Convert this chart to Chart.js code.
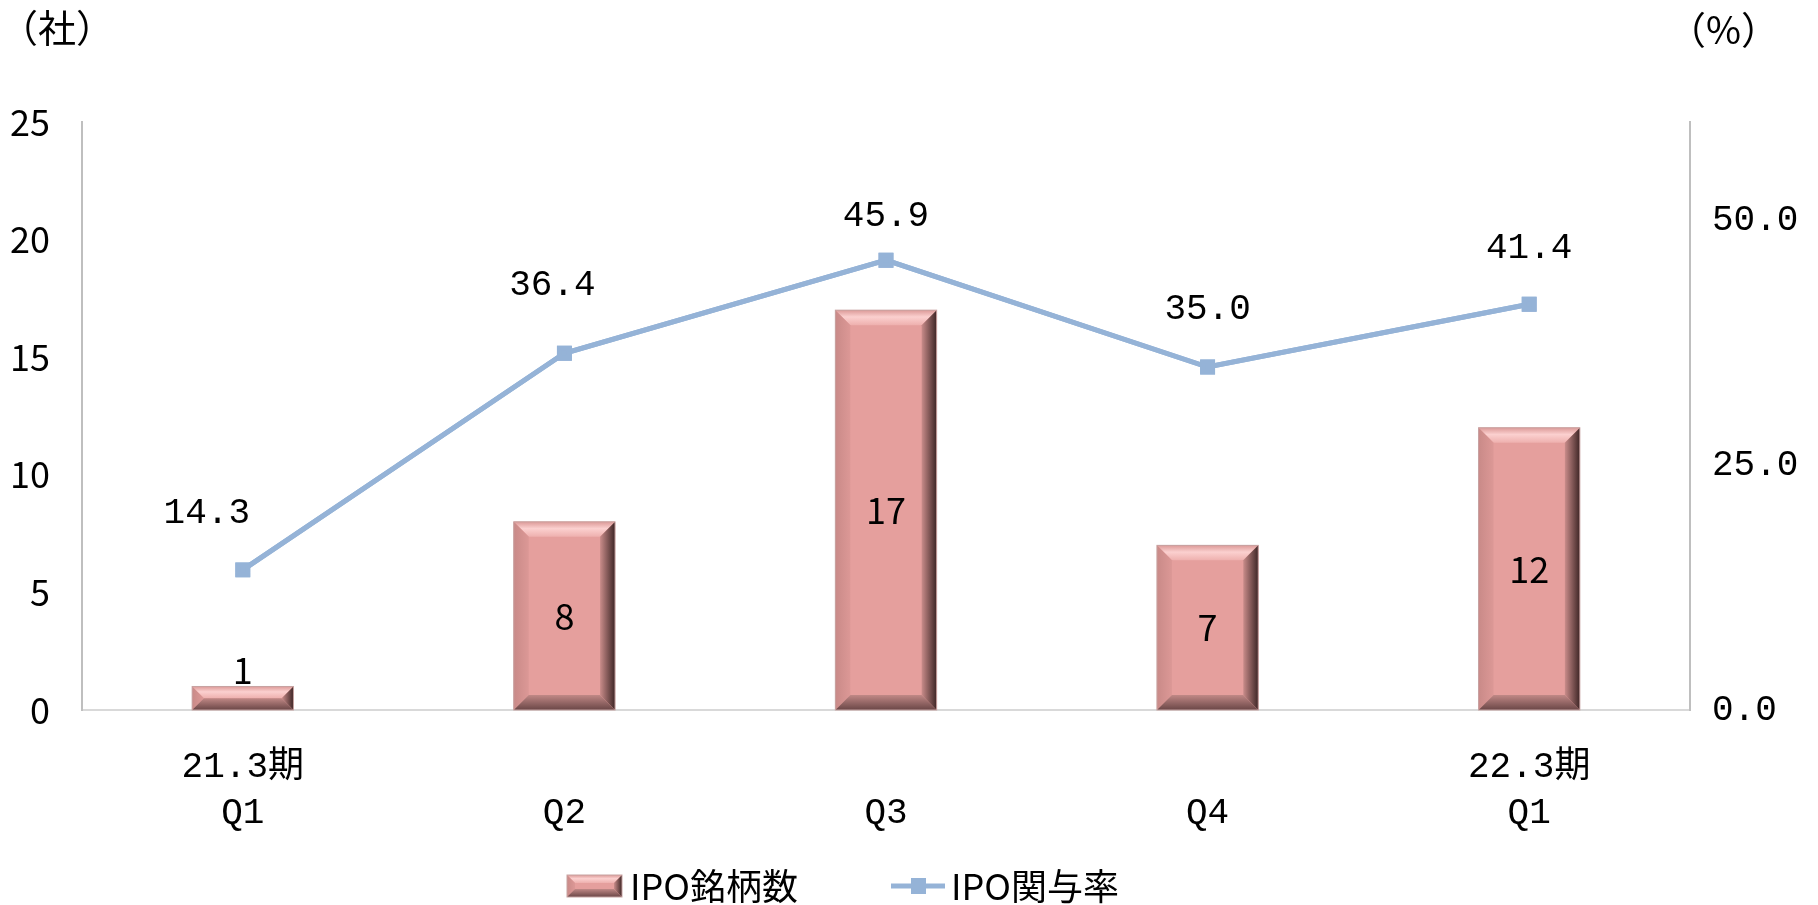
<!DOCTYPE html>
<html>
<head>
<meta charset="utf-8">
<script src="https://cdn.jsdelivr.net/npm/chart.js@4.4.1/dist/chart.umd.min.js"></script>
<style>
    body { margin: 0; background: #ffffff; }
    #wrap { width: 1818px; height: 905px; position: relative; }
</style>
</head>
<body>
<div id="wrap"><canvas id="ipoChart"></canvas></div>
<script>
// data
const periodLabels = ["21.3期", "", "", "", "22.3期"];
const quarterLabels = ["Q1", "Q2", "Q3", "Q4", "Q1"];
const ipoCount = [1, 8, 17, 7, 12];
const ipoRate = [14.3, 36.4, 45.9, 35.0, 41.4];
const leftTicks = [0, 5, 10, 15, 20, 25];
const rightTicks = [0, 25, 50];

const narrowFont = "'Liberation Sans Narrow', 'Noto Sans CJK JP', sans-serif";
const monoFont = "'Liberation Mono', 'Noto Sans CJK JP', monospace";
const cjkFont = "'Noto Sans CJK JP', sans-serif";

// small nudges for the rate labels (Excel had some moved by hand)
const rateLabelDx = [-36, -12, 0, 0, 0];
const rateLabelDy = [56, 68, 44, 58, 56];

// draws one bevelled box, used for the bars and the legend key
function drawBevel(ctx, l, t, r, b, size) {
    const bv = Math.min(size, (b - t) / 2);
    ctx.save();
    ctx.fillStyle = "#e59f9d";
    ctx.fillRect(l, t, r - l, b - t);
    // top
    let g = ctx.createLinearGradient(0, t, 0, t + bv);
    g.addColorStop(0, "#dc9a98");
    g.addColorStop(0.45, "#fbd0cf");
    g.addColorStop(1, "#eeb0ae");
    ctx.fillStyle = g;
    ctx.beginPath();
    ctx.moveTo(l, t); ctx.lineTo(r, t); ctx.lineTo(r - bv, t + bv); ctx.lineTo(l + bv, t + bv);
    ctx.closePath(); ctx.fill();
    // left
    g = ctx.createLinearGradient(l, 0, l + bv, 0);
    g.addColorStop(0, "#c98a88");
    g.addColorStop(1, "#dc9896");
    ctx.fillStyle = g;
    ctx.beginPath();
    ctx.moveTo(l, t); ctx.lineTo(l + bv, t + bv); ctx.lineTo(l + bv, b - bv); ctx.lineTo(l, b);
    ctx.closePath(); ctx.fill();
    // right
    g = ctx.createLinearGradient(r - bv, 0, r, 0);
    g.addColorStop(0, "#c98c8a");
    g.addColorStop(1, "#3e2626");
    ctx.fillStyle = g;
    ctx.beginPath();
    ctx.moveTo(r, t); ctx.lineTo(r, b); ctx.lineTo(r - bv, b - bv); ctx.lineTo(r - bv, t + bv);
    ctx.closePath(); ctx.fill();
    // bottom
    g = ctx.createLinearGradient(0, b - bv, 0, b);
    g.addColorStop(0, "#c08886");
    g.addColorStop(1, "#6a4646");
    ctx.fillStyle = g;
    ctx.beginPath();
    ctx.moveTo(l, b); ctx.lineTo(r, b); ctx.lineTo(r - bv, b - bv); ctx.lineTo(l + bv, b - bv);
    ctx.closePath(); ctx.fill();
    ctx.strokeStyle = "#c7a3a2";
    ctx.lineWidth = 1;
    ctx.strokeRect(l, t, r - l, b - t);
    ctx.restore();
}

const bevelPlugin = {
    id: "bevel",
    afterDatasetsDraw(chart) {
        chart.getDatasetMeta(0).data.forEach((el) => {
            drawBevel(chart.ctx, el.x - el.width / 2, el.y, el.x + el.width / 2, el.base, 15);
        });
        // redraw the line on top of the bars
        chart.getDatasetMeta(1).controller.draw();
    }
};

// data labels, unit titles and the legend
const labelPlugin = {
    id: "labels",
    afterDraw(chart) {
        const ctx = chart.ctx;
        ctx.save();
        ctx.fillStyle = "#000000";
        ctx.textAlign = "center";
        ctx.textBaseline = "middle";

        // bar values
        ctx.font = "36px " + narrowFont;
        chart.getDatasetMeta(0).data.forEach((el, i) => {
            const h = el.base - el.y;
            if (h > 50) {
                ctx.fillText(String(ipoCount[i]), el.x, (el.y + el.base) / 2);
            } else {
                ctx.fillText(String(ipoCount[i]), el.x, el.y - 16);
            }
        });

        // rate values
        ctx.font = "36px " + monoFont;
        chart.getDatasetMeta(1).data.forEach((el, i) => {
            ctx.fillText(ipoRate[i].toFixed(1), el.x + rateLabelDx[i], el.y - rateLabelDy[i]);
        });

        // unit titles
        ctx.font = "38px " + cjkFont;
        ctx.textAlign = "left";
        ctx.fillText("（社）", 0, 28);
        ctx.fillText("（%）", 1668, 30);

        // legend
        const ly = 886;
        drawBevel(ctx, 567, ly - 11, 622, ly + 11, 8);
        ctx.fillStyle = "#000000";
        ctx.font = "36px " + cjkFont;
        ctx.fillText(chart.data.datasets[0].label, 630, ly);

        const mx = 891;
        ctx.strokeStyle = "#95b3d7";
        ctx.lineWidth = 5;
        ctx.beginPath();
        ctx.moveTo(mx, ly); ctx.lineTo(mx + 54, ly);
        ctx.stroke();
        ctx.fillStyle = "#95b3d7";
        ctx.fillRect(mx + 20, ly - 8, 15, 16);
        ctx.fillStyle = "#000000";
        ctx.fillText(chart.data.datasets[1].label, 951, ly);
        ctx.restore();
    }
};

const ctx = document.getElementById("ipoChart").getContext("2d");

new Chart(ctx, {
    type: "bar",
    data: {
        labels: periodLabels.map((p, i) => [p, quarterLabels[i]]),
        datasets: [
            {
                type: "bar",
                label: "IPO銘柄数",
                data: ipoCount,
                yAxisID: "y",
                backgroundColor: "#e59f9d",
                borderWidth: 0,
                barPercentage: 0.315,
                categoryPercentage: 1,
                order: 2
            },
            {
                type: "line",
                label: "IPO関与率",
                data: ipoRate,
                yAxisID: "y2",
                borderColor: "#95b3d7",
                backgroundColor: "#95b3d7",
                borderWidth: 5,
                pointStyle: "rect",
                pointRadius: 7,
                pointHoverRadius: 7,
                tension: 0,
                order: 1
            }
        ]
    },
    options: {
        responsive: true,
        maintainAspectRatio: false,
        animation: false,
        layout: { padding: { top: 122, left: 0, right: 0, bottom: 0 } },
        plugins: {
            legend: { display: false },
            tooltip: { enabled: false }
        },
        scales: {
            x: {
                grid: { display: false, drawTicks: false },
                border: { color: "#d9d9d9", width: 2 },
                ticks: {
                    color: "#000000",
                    font: { family: monoFont, size: 36, lineHeight: 1.28 },
                    padding: 34,
                    maxRotation: 0
                },
                afterFit(scale) { scale.height = 195; }
            },
            y: {
                position: "left",
                min: 0,
                max: 25,
                afterBuildTicks(scale) { scale.ticks = leftTicks.map(v => ({ value: v })); },
                grid: { display: false, drawTicks: false },
                border: { color: "#bfbfbf", width: 2 },
                ticks: {
                    color: "#000000",
                    font: { family: narrowFont, size: 36 },
                    padding: 32
                },
                afterFit(scale) { scale.width = 82; }
            },
            y2: {
                position: "right",
                min: 0,
                max: 60,
                afterBuildTicks(scale) { scale.ticks = rightTicks.map(v => ({ value: v })); },
                grid: { display: false, drawTicks: false },
                border: { color: "#bfbfbf", width: 2 },
                ticks: {
                    color: "#000000",
                    font: { family: monoFont, size: 36 },
                    padding: 22,
                    callback: (v) => Number(v).toFixed(1)
                },
                afterFit(scale) { scale.width = 128; }
            }
        }
    },
    plugins: [bevelPlugin, labelPlugin]
});
</script>
</body>
</html>
